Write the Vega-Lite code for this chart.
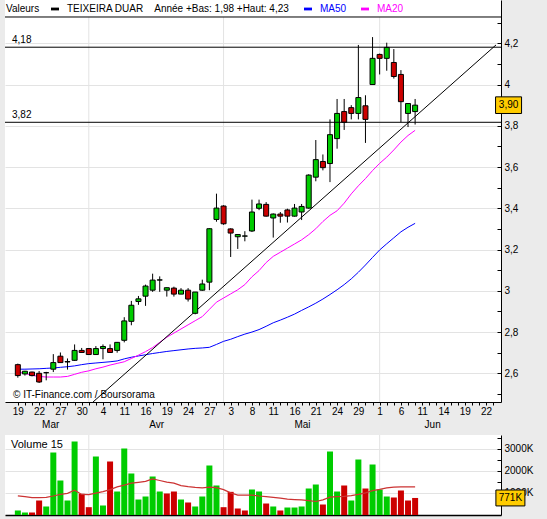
{
"$schema": "https://vega.github.io/schema/vega-lite/v6.json",
"background": "#ebebeb",
"padding": {"left": 4, "top": 0, "right": 14, "bottom": 4},
"config": {
  "view": {"stroke": null, "fill": "white"},
  "font": "Liberation Sans",
  "axis": {"labelFont": "Liberation Sans", "labelFontSize": 10, "labelColor": "#000000", "domainColor": "#000000", "tickColor": "#000000", "title": null, "gridColor": "#e3e3e3"}
},
"datasets": {
  "days": [
    {"d":"2012-03-19","i":0,"o":2.642,"h":2.647,"l":2.579,"c":2.589,"v":204,"up":true,"MA20":2.606,"MA50":2.620,"vma":868},
    {"d":"2012-03-20","i":1,"o":2.597,"h":2.612,"l":2.589,"c":2.610,"v":113,"up":true,"MA20":2.600,"MA50":2.620,"vma":830},
    {"d":"2012-03-21","i":2,"o":2.606,"h":2.608,"l":2.585,"c":2.589,"v":113,"up":false,"MA20":2.590,"MA50":2.621,"vma":790},
    {"d":"2012-03-22","i":3,"o":2.600,"h":2.611,"l":2.553,"c":2.558,"v":656,"up":false,"MA20":2.585,"MA50":2.622,"vma":790},
    {"d":"2012-03-23","i":4,"o":2.603,"h":2.607,"l":2.566,"c":2.603,"v":385,"up":true,"MA20":2.582,"MA50":2.624,"vma":800},
    {"d":"2012-03-26","i":5,"o":2.620,"h":2.693,"l":2.606,"c":2.652,"v":2828,"up":true,"MA20":2.582,"MA50":2.626,"vma":860},
    {"d":"2012-03-27","i":6,"o":2.683,"h":2.701,"l":2.680,"c":2.652,"v":1561,"up":true,"MA20":2.582,"MA50":2.629,"vma":930},
    {"d":"2012-03-28","i":7,"o":2.655,"h":2.672,"l":2.618,"c":2.657,"v":656,"up":true,"MA20":2.585,"MA50":2.632,"vma":980},
    {"d":"2012-03-29","i":8,"o":2.663,"h":2.740,"l":2.660,"c":2.711,"v":3326,"up":true,"MA20":2.595,"MA50":2.636,"vma":1120},
    {"d":"2012-03-30","i":9,"o":2.711,"h":2.723,"l":2.700,"c":2.701,"v":958,"up":false,"MA20":2.605,"MA50":2.642,"vma":930},
    {"d":"2012-04-02","i":10,"o":2.720,"h":2.722,"l":2.690,"c":2.691,"v":354,"up":false,"MA20":2.612,"MA50":2.647,"vma":920},
    {"d":"2012-04-03","i":11,"o":2.691,"h":2.732,"l":2.690,"c":2.720,"v":2647,"up":true,"MA20":2.622,"MA50":2.650,"vma":990},
    {"d":"2012-04-04","i":12,"o":2.720,"h":2.740,"l":2.668,"c":2.730,"v":430,"up":true,"MA20":2.630,"MA50":2.653,"vma":1060},
    {"d":"2012-04-05","i":13,"o":2.720,"h":2.740,"l":2.700,"c":2.701,"v":2421,"up":false,"MA20":2.640,"MA50":2.656,"vma":1150},
    {"d":"2012-04-10","i":14,"o":2.711,"h":2.752,"l":2.700,"c":2.750,"v":1063,"up":true,"MA20":2.648,"MA50":2.660,"vma":1270},
    {"d":"2012-04-11","i":15,"o":2.760,"h":2.872,"l":2.750,"c":2.854,"v":3009,"up":true,"MA20":2.656,"MA50":2.670,"vma":1350},
    {"d":"2012-04-12","i":16,"o":2.852,"h":2.951,"l":2.833,"c":2.930,"v":1878,"up":true,"MA20":2.672,"MA50":2.678,"vma":1440},
    {"d":"2012-04-13","i":17,"o":2.948,"h":2.975,"l":2.932,"c":2.961,"v":701,"up":true,"MA20":2.688,"MA50":2.684,"vma":1480},
    {"d":"2012-04-16","i":18,"o":2.974,"h":3.030,"l":2.927,"c":3.023,"v":837,"up":true,"MA20":2.705,"MA50":2.690,"vma":1520},
    {"d":"2012-04-17","i":19,"o":3.003,"h":3.083,"l":2.995,"c":3.052,"v":1742,"up":true,"MA20":2.725,"MA50":2.696,"vma":1630},
    {"d":"2012-04-18","i":20,"o":3.052,"h":3.070,"l":2.995,"c":3.053,"v":1063,"up":true,"MA20":2.750,"MA50":2.701,"vma":1560},
    {"d":"2012-04-19","i":21,"o":3.003,"h":3.016,"l":2.972,"c":3.015,"v":973,"up":false,"MA20":2.775,"MA50":2.706,"vma":1490},
    {"d":"2012-04-20","i":22,"o":3.013,"h":3.020,"l":2.972,"c":2.984,"v":1063,"up":false,"MA20":2.795,"MA50":2.710,"vma":1440},
    {"d":"2012-04-23","i":23,"o":2.984,"h":3.013,"l":2.984,"c":3.003,"v":701,"up":true,"MA20":2.815,"MA50":2.714,"vma":1330},
    {"d":"2012-04-24","i":24,"o":3.003,"h":3.013,"l":2.948,"c":2.960,"v":566,"up":false,"MA20":2.835,"MA50":2.718,"vma":1280},
    {"d":"2012-04-25","i":25,"o":2.891,"h":2.994,"l":2.886,"c":2.994,"v":385,"up":true,"MA20":2.855,"MA50":2.721,"vma":1250},
    {"d":"2012-04-26","i":26,"o":3.003,"h":3.054,"l":3.000,"c":3.033,"v":837,"up":true,"MA20":2.875,"MA50":2.723,"vma":1230},
    {"d":"2012-04-27","i":27,"o":3.042,"h":3.303,"l":3.003,"c":3.301,"v":2240,"up":true,"MA20":2.910,"MA50":2.726,"vma":1260},
    {"d":"2012-04-30","i":28,"o":3.346,"h":3.471,"l":3.335,"c":3.401,"v":1335,"up":true,"MA20":2.945,"MA50":2.740,"vma":1240},
    {"d":"2012-05-02","i":29,"o":3.411,"h":3.415,"l":3.320,"c":3.325,"v":354,"up":false,"MA20":2.965,"MA50":2.755,"vma":1150},
    {"d":"2012-05-03","i":30,"o":3.300,"h":3.303,"l":3.164,"c":3.280,"v":1048,"up":false,"MA20":2.985,"MA50":2.765,"vma":1000},
    {"d":"2012-05-04","i":31,"o":3.262,"h":3.275,"l":3.203,"c":3.273,"v":294,"up":false,"MA20":3.005,"MA50":2.778,"vma":900},
    {"d":"2012-05-07","i":32,"o":3.265,"h":3.289,"l":3.240,"c":3.266,"v":204,"up":false,"MA20":3.030,"MA50":2.790,"vma":898},
    {"d":"2012-05-08","i":33,"o":3.290,"h":3.442,"l":3.285,"c":3.382,"v":1154,"up":true,"MA20":3.068,"MA50":2.800,"vma":898},
    {"d":"2012-05-09","i":34,"o":3.400,"h":3.442,"l":3.391,"c":3.421,"v":1063,"up":true,"MA20":3.098,"MA50":2.812,"vma":860},
    {"d":"2012-05-10","i":35,"o":3.419,"h":3.430,"l":3.360,"c":3.362,"v":520,"up":false,"MA20":3.137,"MA50":2.828,"vma":830},
    {"d":"2012-05-11","i":36,"o":3.353,"h":3.375,"l":3.258,"c":3.372,"v":385,"up":true,"MA20":3.167,"MA50":2.845,"vma":800},
    {"d":"2012-05-14","i":37,"o":3.372,"h":3.382,"l":3.330,"c":3.362,"v":204,"up":false,"MA20":3.187,"MA50":2.858,"vma":760},
    {"d":"2012-05-15","i":38,"o":3.392,"h":3.398,"l":3.331,"c":3.362,"v":339,"up":true,"MA20":3.207,"MA50":2.872,"vma":720},
    {"d":"2012-05-16","i":39,"o":3.362,"h":3.421,"l":3.360,"c":3.401,"v":339,"up":true,"MA20":3.227,"MA50":2.887,"vma":700},
    {"d":"2012-05-17","i":40,"o":3.382,"h":3.421,"l":3.343,"c":3.409,"v":385,"up":true,"MA20":3.247,"MA50":2.905,"vma":686},
    {"d":"2012-05-18","i":41,"o":3.401,"h":3.565,"l":3.398,"c":3.561,"v":1199,"up":true,"MA20":3.272,"MA50":2.922,"vma":650},
    {"d":"2012-05-21","i":42,"o":3.551,"h":3.731,"l":3.531,"c":3.636,"v":1380,"up":true,"MA20":3.301,"MA50":2.940,"vma":611},
    {"d":"2012-05-22","i":43,"o":3.627,"h":3.661,"l":3.584,"c":3.597,"v":475,"up":false,"MA20":3.336,"MA50":2.960,"vma":686},
    {"d":"2012-05-23","i":44,"o":3.617,"h":3.831,"l":3.527,"c":3.757,"v":2873,"up":true,"MA20":3.366,"MA50":2.982,"vma":808},
    {"d":"2012-05-24","i":45,"o":3.738,"h":3.930,"l":3.689,"c":3.860,"v":1063,"up":true,"MA20":3.388,"MA50":3.005,"vma":830},
    {"d":"2012-05-25","i":46,"o":3.869,"h":3.930,"l":3.780,"c":3.817,"v":1335,"up":false,"MA20":3.425,"MA50":3.030,"vma":845},
    {"d":"2012-05-28","i":47,"o":3.888,"h":3.900,"l":3.831,"c":3.860,"v":656,"up":true,"MA20":3.470,"MA50":3.058,"vma":880},
    {"d":"2012-05-29","i":48,"o":3.860,"h":4.192,"l":3.831,"c":3.937,"v":2511,"up":true,"MA20":3.509,"MA50":3.090,"vma":930},
    {"d":"2012-05-30","i":49,"o":3.897,"h":3.948,"l":3.717,"c":3.831,"v":1199,"up":false,"MA20":3.544,"MA50":3.125,"vma":1000},
    {"d":"2012-05-31","i":50,"o":4.000,"h":4.230,"l":4.000,"c":4.127,"v":2285,"up":true,"MA20":3.583,"MA50":3.162,"vma":1100},
    {"d":"2012-06-01","i":51,"o":4.146,"h":4.150,"l":4.049,"c":4.127,"v":1154,"up":true,"MA20":3.618,"MA50":3.198,"vma":1160},
    {"d":"2012-06-04","i":52,"o":4.127,"h":4.203,"l":4.067,"c":4.180,"v":837,"up":true,"MA20":3.648,"MA50":3.228,"vma":1230},
    {"d":"2012-06-05","i":53,"o":4.107,"h":4.172,"l":4.029,"c":4.039,"v":792,"up":false,"MA20":3.683,"MA50":3.257,"vma":1260},
    {"d":"2012-06-06","i":54,"o":4.049,"h":4.070,"l":3.817,"c":3.917,"v":1109,"up":false,"MA20":3.721,"MA50":3.286,"vma":1275},
    {"d":"2012-06-07","i":55,"o":3.860,"h":3.910,"l":3.794,"c":3.908,"v":656,"up":false,"MA20":3.753,"MA50":3.308,"vma":1275},
    {"d":"2012-06-08","i":56,"o":3.869,"h":3.930,"l":3.806,"c":3.900,"v":771,"up":false,"MA20":3.778,"MA50":3.327,"vma":1275}
  ],
  "months": [{"m":10},{"m":29},{"m":51}],
  "levels": [{"level":4.181,"label":"4,18"},{"level":3.817,"label":"3,82"}],
  "trend": [{"ti":10.6,"tp":2.461},{"ti":67.4,"tp":4.192}],
  "last": [{"p":3.90,"label":"3,90","vlast":771,"vlabel":"771K"}],
  "notes": [{"copy":"© IT-Finance.com / Boursorama","vol":"Volume 15"}]
},
"spacing": 33,
"bounds": "flush",
"resolve": {"scale": {"x": "independent", "y": "independent", "color": "independent"}},
"vconcat": [
  {
    "width": 496, "height": 402,
    "data": {"name": "days"},
    "resolve": {"axis": {"x": "independent", "y": "independent"}},
    "layer": [
      {
        "data": {"name": "months"},
        "mark": {"type": "rule", "color": "#e3e3e3", "strokeWidth": 1},
        "encoding": {
          "x": {"field": "m", "type": "quantitative", "scale": {"domain": [-1.105, 67.4], "nice": false, "zero": false}, "axis": null},
          "y": {"datum": 2.4609, "type": "quantitative", "scale": {"domain": [2.4609, 4.4099], "nice": false, "zero": false}, "axis": null},
          "y2": {"datum": 4.3275}
        }
      },
      {
        "data": {"values": [{"k": 1}]},
        "mark": {"type": "rule", "color": "#000000", "strokeWidth": 1},
        "encoding": {"y": {"datum": 4.3275, "type": "quantitative", "axis": null}}
      },
      {
        "transform": [{"fold": ["MA50", "MA20"], "as": ["series", "value"]}],
        "mark": {"type": "line", "strokeWidth": 1, "clip": true},
        "encoding": {
          "x": {"field": "i", "type": "quantitative", "axis": null},
          "y": {"field": "value", "type": "quantitative", "axis": {
            "orient": "right",
            "values": [2.5,2.6,2.7,2.8,2.9,3,3.1,3.2,3.3,3.4,3.5,3.6,3.7,3.8,3.9,4,4.1,4.2,4.3],
            "labelExpr": "round(datum.value * 10) % 2 == 0 ? replace(format(datum.value, '~g'), '.', ',') : ''",
            "grid": true,
            "gridColor": {"condition": {"test": "round(datum.value * 10) % 2 == 1", "value": "transparent"}, "value": "#e3e3e3"},
            "tickSize": -4,
            "labelPadding": 7,
            "labelBaseline": "middle",
            "domainColor": "#000000"
          }},
          "color": {"field": "series", "type": "nominal",
            "scale": {"domain": ["TEIXEIRA DUAR", "MA50", "MA20"], "range": ["#000000", "#0000ff", "#ff00ff"]},
            "legend": {
              "orient": "none", "legendX": 1, "legendY": 4, "direction": "horizontal",
              "title": "Valeurs", "titleOrient": "left", "titleFontWeight": "normal", "titleFontSize": 10,
              "titleFont": "Liberation Sans", "titleColor": "#000000", "titlePadding": 10,
              "labelFont": "Liberation Sans", "labelFontSize": 10, "labelLimit": 400,
              "symbolType": "M-1,-0.35H1V0.35H-1Z", "symbolSize": 64, "symbolStrokeWidth": 0,
              "labelOffset": 7, "columnPadding": 13,
              "labelExpr": "datum.value == 'TEIXEIRA DUAR' ? 'TEIXEIRA DUAR\u00a0\u00a0\u00a0\u00a0Année +Bas: 1,98 +Haut: 4,23' : datum.value",
              "encode": {
                "labels": {"update": {"fill": {"signal": "datum.value == 'MA50' ? '#0000ff' : datum.value == 'MA20' ? '#ff00ff' : '#000000'"}}},
                "symbols": {"update": {"fill": {"signal": "datum.value == 'MA50' ? '#0000ff' : datum.value == 'MA20' ? '#ff00ff' : '#000000'"}, "strokeWidth": {"value": 0}}}
              }
            }
          }
        }
      },
      {
        "data": {"name": "trend"},
        "mark": {"type": "line", "color": "#000000", "strokeWidth": 1, "clip": true},
        "encoding": {
          "x": {"field": "ti", "type": "quantitative", "axis": null},
          "y": {"field": "tp", "type": "quantitative", "axis": null}
        }
      },
      {
        "mark": {"type": "rule", "color": "#000000", "strokeWidth": 1},
        "encoding": {
          "x": {"field": "i", "type": "quantitative", "axis": {
            "orient": "bottom",
            "values": [0,1,2,3,4,5,6,7,8,9,10,11,12,13,14,15,16,17,18,19,20,21,22,23,24,25,26,27,28,29,30,31,32,33,34,35,36,37,38,39,40,41,42,43,44,45,46,47,48,49,50,51,52,53,54,55,56,57,58,59,60,61,62,63,64,65,66,67],
            "labelExpr": "datum.value % 3 == 0 && datum.value <= 66 ? ['19','22','27','30','4','11','16','19','24','27','3','8','11','16','21','24','29','1','6','11','14','19','22'][datum.value / 3] : ''",
            "tickSize": 3, "labelPadding": 1, "labelFlush": false, "labelOverlap": false, "grid": false, "domainColor": "#000000"
          }},
          "y": {"field": "l", "type": "quantitative", "axis": null},
          "y2": {"field": "h"}
        }
      },
      {
        "mark": {"type": "bar", "width": 5, "stroke": "#000000", "strokeWidth": 1},
        "encoding": {
          "x": {"field": "i", "type": "quantitative", "axis": {
            "orient": "bottom",
            "values": [4.56, 19.5, 40.06, 58.4],
            "labelExpr": "datum.value < 10 ? 'Mar' : datum.value < 30 ? 'Avr' : datum.value < 50 ? 'Mai' : 'Jun'",
            "ticks": false, "domain": false, "grid": false, "labelPadding": 17, "labelFlush": false
          }},
          "y": {"field": "o", "type": "quantitative", "axis": null},
          "y2": {"field": "c"},
          "fill": {"condition": {"test": "datum.c >= datum.o", "value": "#00cc00"}, "value": "#cc0000"}
        }
      },
      {
        "data": {"name": "levels"},
        "mark": {"type": "rule", "color": "#000000", "strokeWidth": 1},
        "encoding": {"y": {"field": "level", "type": "quantitative", "axis": null}}
      },
      {
        "data": {"name": "levels"},
        "mark": {"type": "text", "align": "left", "baseline": "bottom", "dx": 2, "dy": -2, "fontSize": 10, "color": "#000000"},
        "encoding": {
          "x": {"datum": -1.105, "type": "quantitative", "axis": null},
          "y": {"field": "level", "type": "quantitative", "axis": null},
          "text": {"field": "label"}
        }
      },
      {
        "data": {"name": "notes"},
        "mark": {"type": "text", "align": "left", "baseline": "bottom", "dx": 3, "dy": -2, "fontSize": 10, "color": "#000000"},
        "encoding": {
          "x": {"datum": -1.105, "type": "quantitative", "axis": null},
          "y": {"datum": 2.4609, "type": "quantitative", "axis": null},
          "text": {"field": "copy"}
        }
      },
      {
        "data": {"name": "last"},
        "mark": {"type": "point", "shape": "M-1,-0.64H1V0.64H-1Z", "size": 676, "filled": true, "fill": "#ffcc00", "stroke": "#000000", "strokeWidth": 1, "opacity": 1, "clip": false},
        "encoding": {
          "x": {"datum": 69.17, "type": "quantitative", "axis": null},
          "y": {"field": "p", "type": "quantitative", "axis": null}
        }
      },
      {
        "data": {"name": "last"},
        "mark": {"type": "text", "align": "center", "baseline": "middle", "fontSize": 10, "color": "#000000"},
        "encoding": {
          "x": {"datum": 69.17, "type": "quantitative", "axis": null},
          "y": {"field": "p", "type": "quantitative", "axis": null},
          "text": {"field": "label"}
        }
      }
    ]
  },
  {
    "width": 496, "height": 80,
    "data": {"name": "days"},
    "resolve": {"axis": {"x": "independent", "y": "independent"}},
    "layer": [
      {
        "data": {"name": "months"},
        "mark": {"type": "rule", "color": "#e3e3e3", "strokeWidth": 1},
        "encoding": {
          "x": {"field": "m", "type": "quantitative", "scale": {"domain": [-1.105, 67.4], "nice": false, "zero": false}, "axis": null},
          "y": {"datum": 0, "type": "quantitative", "scale": {"domain": [0, 3620], "nice": false, "zero": false}, "axis": null},
          "y2": {"datum": 3620}
        }
      },
      {
        "mark": {"type": "bar", "width": 6},
        "encoding": {
          "x": {"field": "i", "type": "quantitative", "axis": {"orient": "bottom", "ticks": false, "labels": false, "grid": false, "domain": true, "domainColor": "#000000", "domainWidth": 1.5}},
          "y": {"field": "v", "type": "quantitative", "axis": {
            "orient": "right",
            "values": [500,1000,1500,2000,2500,3000,3500],
            "labelExpr": "datum.value % 1000 == 0 ? datum.value + 'K' : ''",
            "grid": true,
            "gridColor": {"condition": {"test": "datum.value % 1000 != 0", "value": "transparent"}, "value": "#e3e3e3"},
            "tickSize": -4, "labelPadding": 7, "labelBaseline": "middle", "domainColor": "#000000"
          }},
          "fill": {"condition": {"test": "datum.up", "value": "#00cc00"}, "value": "#cc0000"}
        }
      },
      {
        "mark": {"type": "line", "color": "#cc3333", "strokeWidth": 1.2},
        "encoding": {
          "x": {"field": "i", "type": "quantitative", "axis": null},
          "y": {"field": "vma", "type": "quantitative", "axis": null}
        }
      },
      {
        "data": {"name": "notes"},
        "mark": {"type": "text", "align": "left", "baseline": "top", "dx": 1, "dy": 4, "fontSize": 11, "color": "#000000"},
        "encoding": {
          "x": {"datum": -1.105, "type": "quantitative", "axis": null},
          "y": {"datum": 3620, "type": "quantitative", "axis": null},
          "text": {"field": "vol"}
        }
      },
      {
        "data": {"name": "last"},
        "mark": {"type": "point", "shape": "M-1,-0.55H1V0.55H-1Z", "size": 841, "filled": true, "fill": "#ffcc00", "stroke": "#000000", "strokeWidth": 1, "opacity": 1, "clip": false},
        "encoding": {
          "x": {"datum": 69.43, "type": "quantitative", "axis": null},
          "y": {"field": "vlast", "type": "quantitative", "axis": null}
        }
      },
      {
        "data": {"name": "last"},
        "mark": {"type": "text", "align": "center", "baseline": "middle", "fontSize": 10, "color": "#000000"},
        "encoding": {
          "x": {"datum": 69.43, "type": "quantitative", "axis": null},
          "y": {"field": "vlast", "type": "quantitative", "axis": null},
          "text": {"field": "vlabel"}
        }
      }
    ]
  }
]
}
